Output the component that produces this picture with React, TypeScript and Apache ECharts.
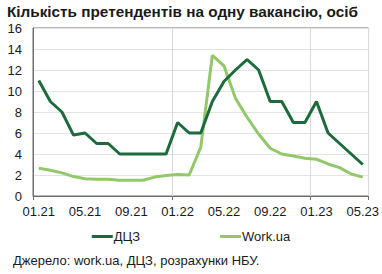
import React, { useEffect, useRef } from "react";
import * as echarts from "echarts";

const categories = [
  "01.21","02.21","03.21","04.21","05.21","06.21","07.21","08.21","09.21","10.21","11.21","12.21",
  "01.22","02.22","03.22","04.22","05.22","06.22","07.22","08.22","09.22","10.22","11.22","12.22",
  "01.23","02.23","03.23","04.23","05.23",
];
const dczValues = [11, 9, 8, 5.8, 6, 5, 5, 4, 4, 4, 4, 4, 7, 6, 6, 9, 10.9, 12, 13, 12, 9, 9, 7, 7, 9, 6, 5, 4, 3];
const workUaValues = [2.65, 2.45, 2.2, 1.85, 1.65, 1.6, 1.6, 1.5, 1.5, 1.5, 1.8, 1.95, 2.05, 2.0, 4.65, 13.4, 12.4, 9.3, 7.5, 5.9, 4.55, 4.0, 3.8, 3.6, 3.5, 3.05, 2.7, 2.1, 1.8];
const seriesNames = ["ДЦЗ", "Work.ua"];
const titleText = "Кількість претендентів на одну вакансію, осіб";
const sourceText = "Джерело: work.ua, ДЦЗ, розрахунки НБУ.";

const DARK = "#1d6b3d";
const LIGHT = "#92c86a";
const FONT = "Liberation Sans, Arial, sans-serif";

export default function App() {
  const ref = useRef<HTMLDivElement>(null);
  useEffect(() => {
    document.body.style.margin = "0";
    const chart = echarts.init(ref.current!, null, { renderer: "svg" });
    chart.setOption({
      animation: false,
      backgroundColor: "#fff",
      textStyle: { fontFamily: FONT },
      title: {
        text: titleText,
        left: 7,
        top: 1,
        padding: [2, 0, 0, 0],
        textStyle: { fontSize: 15.3, fontWeight: "bold", color: "#1a1a1a", fontFamily: FONT, lineHeight: 16 },
      },
      grid: {
        left: 33,
        right: 11,
        top: 28,
        bottom: 78,
        show: true,
        borderColor: "#6e6e6e",
        borderWidth: 1,
      },
      legend: {
        bottom: 26,
        left: "center",
        itemWidth: 21,
        itemHeight: 3,
        itemGap: 80,
        icon: "rect",
        textStyle: { fontSize: 13, color: "#1a1a1a", padding: [0, 0, 0, -4] },
        data: seriesNames,
      },
      xAxis: {
        type: "category",
        data: categories,
        boundaryGap: true,
        axisLine: { lineStyle: { color: "#6e6e6e" } },
        axisTick: {
          show: true,
          interval: (i: number) => i % 12 === 0,
          length: 4,
          lineStyle: { color: "#6e6e6e" },
        },
        axisLabel: { interval: 3, fontSize: 13, color: "#1a1a1a", margin: 9 },
        splitLine: {
          show: true,
          interval: (i: number) => i % 12 === 0,
          lineStyle: { color: "#d9d9d9" },
        },
      },
      yAxis: {
        type: "value",
        min: 0,
        max: 16,
        interval: 2,
        axisLine: { show: true, lineStyle: { color: "#6e6e6e" } },
        axisTick: { show: false },
        axisLabel: { fontSize: 13, color: "#1a1a1a", margin: 11, lineHeight: 13 },
        splitLine: { lineStyle: { color: "#e3e3e3" } },
      },
      series: [
        {
          name: seriesNames[0],
          type: "line",
          data: dczValues,
          showSymbol: false,
          symbol: "none",
          lineStyle: { color: DARK, width: 3 },
          itemStyle: { color: DARK },
          z: 3,
        },
        {
          name: seriesNames[1],
          type: "line",
          data: workUaValues,
          showSymbol: false,
          symbol: "none",
          lineStyle: { color: LIGHT, width: 3 },
          itemStyle: { color: LIGHT },
          z: 2,
        },
      ],
      graphic: [
        {
          type: "text",
          left: 13,
          top: 254,
          style: { text: sourceText, fontSize: 13, fill: "#1a1a1a", fontFamily: FONT },
        },
      ],
    });
    return () => chart.dispose();
  }, []);
  return <div ref={ref} style={{ width: 382, height: 274 }} />;
}
